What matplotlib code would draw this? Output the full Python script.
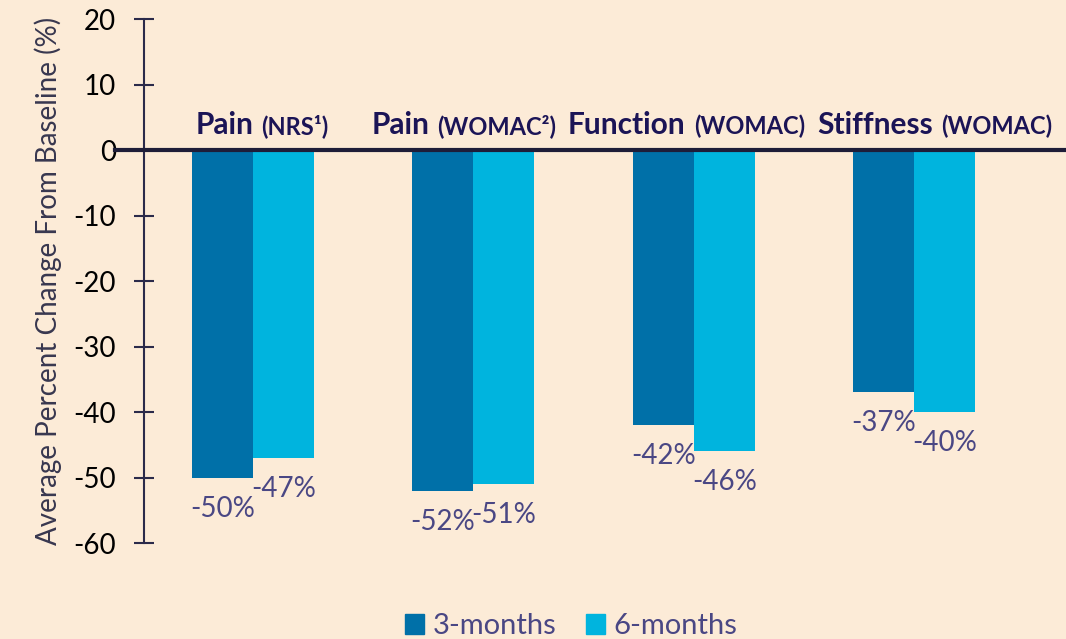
import matplotlib.pyplot as plt
from matplotlib.patches import Patch
from matplotlib.offsetbox import TextArea, HPacker, AnnotationBbox

plt.rcParams['font.family'] = ['Lato', 'DejaVu Sans']
plt.rcParams['axes.unicode_minus'] = False

# average percent change from baseline, per outcome
measures = ['Pain', 'Pain', 'Function', 'Stiffness']
scales = ['(NRS\u00b9)', '(WOMAC\u00b2)', '(WOMAC)', '(WOMAC)']
three_months = [-50, -52, -42, -37]
six_months = [-47, -51, -46, -40]
series_names = ['3-months', '6-months']

bg = '#FCEBD7'
dark_blue = '#0070A8'
light_blue = '#00B4DE'
navy = '#1B1456'
label_col = '#4A4784'

fig = plt.figure(figsize=(10.66, 6.39), dpi=100, facecolor=bg)
ax = fig.add_axes([144 / 1066, 1 - 543 / 639, 1 - 144 / 1066, (543 - 19) / 639])
ax.set_facecolor(bg)

x = list(range(len(measures)))
w = 0.277
b1 = ax.bar([i - w / 2 for i in x], three_months, w, color=dark_blue)
b2 = ax.bar([i + w / 2 for i in x], six_months, w, color=light_blue)

for bars, vals in ((b1, three_months), (b2, six_months)):
    for bar, v in zip(bars, vals):
        ax.annotate(f'{v}%', (bar.get_x() + bar.get_width() / 2, v),
                    xytext=(0, -13), textcoords='offset points',
                    ha='center', va='top', fontsize=20, color=label_col)

# category names sit just above the zero line, nudged so they don't collide
nudge = [0.04, -0.043, -0.032, 0.093]
for i, (m, s) in enumerate(zip(measures, scales)):
    box = HPacker(children=[
        TextArea(m, textprops=dict(fontsize=21.5, fontweight='bold', color=navy)),
        TextArea(s, textprops=dict(fontsize=17, fontweight='bold', color=navy)),
    ], align='baseline', pad=0, sep=6)
    ab = AnnotationBbox(box, (i + nudge[i], 0), xybox=(0, 8), xycoords='data',
                        boxcoords='offset points', box_alignment=(0.5, 0),
                        frameon=False)
    ax.add_artist(ab)

ax.axhline(0, xmin=-0.031, color='#1E1D38', lw=3, clip_on=False, zorder=3)

ax.set_xlim(-0.495, 3.69)
ax.set_ylim(-60, 20)
ax.set_yticks(range(-60, 21, 10))
ax.set_xticks([])
for side in ('top', 'right', 'bottom'):
    ax.spines[side].set_visible(False)
ax.spines['left'].set_color('#2B2A4A')
ax.spines['left'].set_linewidth(1.5)
ax.tick_params(axis='y', direction='inout', length=14, width=1.5,
               color='#2B2A4A', labelsize=20, labelcolor='black', pad=13)
ax.set_ylabel('Average Percent Change From Baseline (%)', fontsize=20,
              color='#38374F', labelpad=8)

handles = [Patch(color=dark_blue), Patch(color=light_blue)]
fig.legend(handles, series_names, loc='center', bbox_to_anchor=(0.536, 0.02),
           ncol=2, frameon=False, fontsize=21, labelcolor=label_col,
           handlelength=0.65, handleheight=0.65, handletextpad=0.3,
           columnspacing=1.0)

fig.savefig('out.png', dpi=100, facecolor=bg)
